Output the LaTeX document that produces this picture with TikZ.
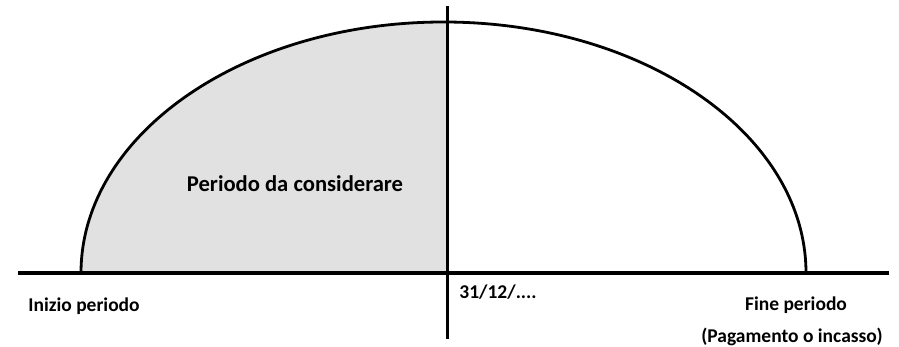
\documentclass[tikz,border=0pt]{standalone}
\usepackage{fontspec}
\setmainfont{Carlito}
\usepackage{tikz}
\definecolor{periodgray}{HTML}{E1E1E1}

\begin{document}
\begin{tikzpicture}[x=1pt, y=1pt, line width=3.2pt,
  lbl/.style={font=\bfseries\fontsize{19.5}{23}\selectfont, inner sep=0pt}]

\useasboundingbox (0,0) rectangle (899,347);

% Axis ends
\coordinate (left) at (18,74);
\coordinate (right) at (889,74);
\coordinate (top) at (447.7,341);
\coordinate (bottom) at (447.7,8);

% Shaded half (up to 31/12)
\begin{scope}
\clip (0,0) rectangle (447.7,347);
\fill[periodgray] (81,74) arc[start angle=180, end angle=0, x radius=362.5, y radius=251] -- cycle;
\end{scope}

% Half ellipse
\draw[line width=2.8pt] (81,74) arc[start angle=180, end angle=0, x radius=362.5, y radius=251];

% Time line and cut
\draw (left) -- (right);
\draw (top) -- (bottom);

% Labels
\node[lbl, font=\bfseries\fontsize{22.6}{27}\selectfont] (consider) at (295,163) {Periodo da considerare};
\node[lbl] (start) at (84,41) {Inizio periodo};
\node[lbl] (cut) at (498,55) {31/12/....};
\node[lbl] (end) at (796,42) {Fine periodo};
\node[lbl] (pay) at (792,10) {(Pagamento o incasso)};

\end{tikzpicture}
\end{document}
